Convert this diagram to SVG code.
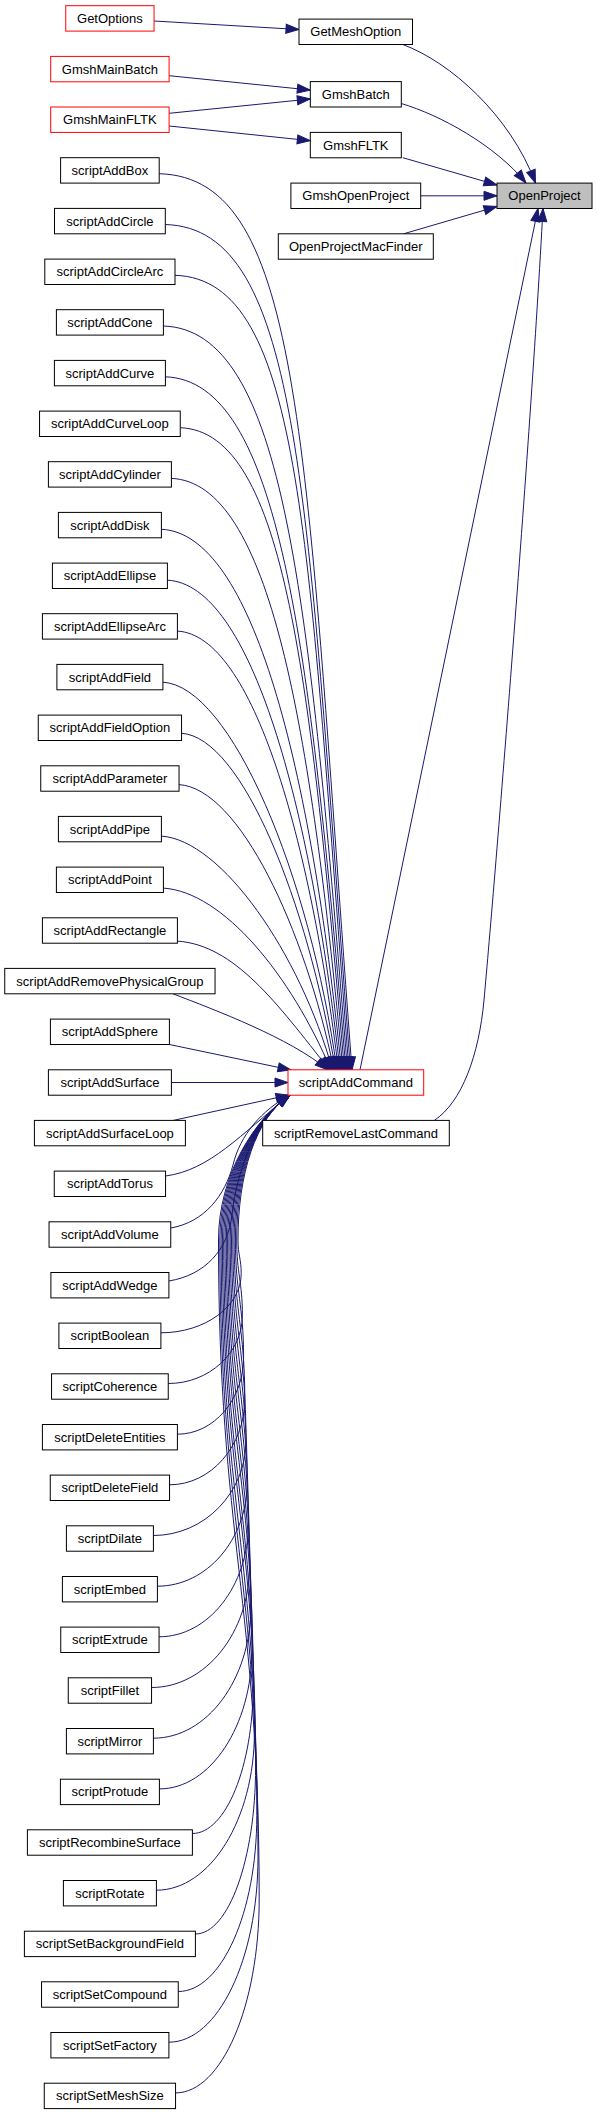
<svg xmlns="http://www.w3.org/2000/svg" width="597" height="2115" viewBox="0 0 597 2115">
<style>
.n rect{fill:#fff;stroke:#000;stroke-width:1}
.r rect{stroke:#f00}
.g rect{fill:#bfbfbf}
text{font-family:"Liberation Sans",Arial,sans-serif;font-size:13px;text-anchor:middle;fill:#000}
#edges path{fill:none;stroke:#191970;stroke-width:1;marker-end:url(#a)}
</style>
<defs>
<marker id="a" markerUnits="userSpaceOnUse" markerWidth="15" markerHeight="11" refX="13" refY="4.5" orient="auto" overflow="visible">
<path d="M0,0 L13,4.5 L0,9 z" fill="#191970" stroke="#191970" stroke-width="1"/>
</marker>
</defs>
<rect width="597" height="2115" fill="#fff"/>
<g id="edges">
<path d="M154,21 L299,29.5"/>
<path d="M169.1,75.7 L310.3,90"/>
<path d="M169.1,113.3 L310.3,99"/>
<path d="M169.1,126 L310.3,140.7"/>
<path d="M402.8,44.5 C450,62 510,115 535.5,183"/>
<path d="M401.3,103.5 C440,115 495,145 526,183"/>
<path d="M402.8,157.7 L497,185"/>
<path d="M420.7,195.8 L497,195.8"/>
<path d="M403.6,233.8 L497,206.5"/>
<path d="M360,1069.8 L538,208.5"/>
<path d="M434.3,1120.4 C462,1102 479,1055 484,1000 C495,880 530,450 543,208.5"/>
<path d="M159.2,173.7 C303.6,177.7 305,443.5 352,1070"/>
<path d="M165.3,224.5 C302.1,228.5 306.4,495.9 350.5,1070"/>
<path d="M175,275.3 C304.2,279.3 307.6,545.9 349,1070"/>
<path d="M163.4,326 C285,330 308.6,593.8 347.5,1070"/>
<path d="M165.4,376.8 C279.4,380.8 309.4,639.9 346,1070"/>
<path d="M180.3,427.7 C286.6,431.7 310.1,684 344.5,1070"/>
<path d="M171.4,478.4 C270.1,482.4 310.6,726 343,1070"/>
<path d="M161.4,529.3 C252.5,533.3 310.8,766.2 341.5,1070"/>
<path d="M167.4,580.2 C250.9,584.2 310.8,804.4 340,1070"/>
<path d="M177.4,631.1 C253.2,635.1 310.5,840.6 338.5,1070"/>
<path d="M162.9,682.2 C231.1,686.2 309.7,874.9 337,1070"/>
<path d="M181.6,733.3 C242.1,737.3 307.5,901.6 335.5,1070"/>
<path d="M179.1,784.6 C239.1,788.6 304.5,927.3 334,1070"/>
<path d="M161.4,836.1 C221.4,840.1 299.9,953 332.5,1070"/>
<path d="M163.4,888.1 C223.4,892.1 291,975.4 331,1070"/>
<path d="M177.4,941.1 C234.5,945.1 276.9,1003 329.5,1070"/>
<path d="M173,993.8 C215,1010 290,1038 328,1070"/>
<path d="M169.4,1044.5 L291,1070"/>
<path d="M171.4,1082.5 L288,1082.5"/>
<path d="M173.3,1120.4 L289,1095"/>
<path d="M165.6,1176 C210,1170 240,1135 290,1095"/>
<path d="M170.8,1228 C205,1222 225,1195 233,1165 C240,1135 262,1110 290,1095"/>
<path d="M168.9,1281 C205,1275 228,1250 232,1215 C236,1175 255,1118 290,1095"/>
<path d="M160.9,1332.8 C205.1,1332.8 241.2,1306.2 241.2,1273.8 C241.2,1258.6 238,1255.2 238,1240 C238,1175 255,1118 290,1095"/>
<path d="M168.3,1383.5 C209,1383.5 242.4,1352.9 242.4,1315.5 C242.4,1281.5 236.7,1274 236.7,1240 C236.7,1175 255,1118 290,1095"/>
<path d="M177.4,1434.2 C213.8,1434.2 243.6,1399.6 243.6,1357.2 C243.6,1304.5 235.4,1292.7 235.4,1240 C235.4,1175 255,1118 290,1095"/>
<path d="M169.6,1484.8 C210.9,1484.8 244.8,1446.1 244.8,1398.8 C244.8,1327.3 234.1,1311.5 234.1,1240 C234.1,1175 255,1118 290,1095"/>
<path d="M153.4,1535.5 C204.3,1535.5 246,1492.8 246,1440.5 C246,1350.3 232.8,1330.2 232.8,1240 C232.8,1175 255,1118 290,1095"/>
<path d="M157.4,1586.2 C206.8,1586.2 247.2,1539.4 247.2,1482.2 C247.2,1373.2 231.5,1349 231.5,1240 C231.5,1175 255,1118 290,1095"/>
<path d="M159.1,1636.8 C208.2,1636.8 248.4,1586 248.4,1523.8 C248.4,1396.1 230.2,1367.7 230.2,1240 C230.2,1175 255,1118 290,1095"/>
<path d="M151.6,1687.5 C205.5,1687.5 249.6,1632.6 249.6,1565.5 C249.6,1419 228.9,1386.5 228.9,1240 C228.9,1175 255,1118 290,1095"/>
<path d="M153.4,1738.2 C207,1738.2 250.8,1679.3 250.8,1607.2 C250.8,1442 227.6,1405.2 227.6,1240 C227.6,1175 255,1118 290,1095"/>
<path d="M159.4,1788.9 C210.3,1788.9 252,1725.9 252,1648.9 C252,1464.9 226.3,1424 226.3,1240 C226.3,1175 255,1118 290,1095"/>
<path d="M192.4,1833.5 C225.8,1833.5 253.2,1766.4 253.2,1684.5 C253.2,1484.5 225,1440 225,1240 C225,1175 255,1118 290,1095"/>
<path d="M156.4,1890.2 C210.3,1890.2 254.4,1819.1 254.4,1732.2 C254.4,1510.7 223.7,1461.5 223.7,1240 C223.7,1175 255,1118 290,1095"/>
<path d="M195.4,1934 C228.5,1934 255.6,1858.9 255.6,1767 C255.6,1529.8 222.4,1477.2 222.4,1240 C222.4,1175 255,1118 290,1095"/>
<path d="M178.3,1991.5 C221.5,1991.5 256.8,1912.3 256.8,1815.5 C256.8,1556.5 221.1,1499 221.1,1240 C221.1,1175 255,1118 290,1095"/>
<path d="M168.9,2042.2 C217.9,2042.2 258,1959 258,1857.2 C258,1579.5 219.8,1517.7 219.8,1240 C219.8,1175 255,1118 290,1095"/>
<path d="M175.6,2092.9 C221.6,2092.9 259.2,2005.6 259.2,1898.9 C259.2,1602.4 218.5,1536.5 218.5,1240 C218.5,1175 255,1118 290,1095"/>
</g>
<g id="OpenProject" class="n g"><rect x="497" y="183.1" width="95" height="25.4"/><text x="544.5" y="200.3">OpenProject</text></g>
<g id="GetMeshOption" class="n"><rect x="299" y="19.1" width="113.5" height="25.4"/><text x="355.8" y="36.3">GetMeshOption</text></g>
<g id="GmshBatch" class="n"><rect x="310.3" y="81.6" width="91" height="25.4"/><text x="355.8" y="98.8">GmshBatch</text></g>
<g id="GmshFLTK" class="n"><rect x="310.3" y="132.4" width="91" height="25.4"/><text x="355.8" y="149.6">GmshFLTK</text></g>
<g id="GmshOpenProject" class="n"><rect x="290.9" y="183.1" width="129.8" height="25.4"/><text x="355.8" y="200.3">GmshOpenProject</text></g>
<g id="OpenProjectMacFinder" class="n"><rect x="278.3" y="233.8" width="155" height="25.4"/><text x="355.8" y="251">OpenProjectMacFinder</text></g>
<g id="scriptAddCommand" class="n r"><rect x="288" y="1069.8" width="135.7" height="25.4"/><text x="355.8" y="1087">scriptAddCommand</text></g>
<g id="scriptRemoveLastCommand" class="n"><rect x="262.7" y="1120.4" width="186.6" height="25.4"/><text x="356" y="1137.6">scriptRemoveLastCommand</text></g>
<g id="GetOptions" class="n r"><rect x="65.75" y="5.7" width="88.3" height="25.4"/><text x="109.9" y="22.9">GetOptions</text></g>
<g id="GmshMainBatch" class="n r"><rect x="50.7" y="56.4" width="118.4" height="25.4"/><text x="109.9" y="73.6">GmshMainBatch</text></g>
<g id="GmshMainFLTK" class="n r"><rect x="50.7" y="107" width="118.4" height="25.4"/><text x="109.9" y="124.2">GmshMainFLTK</text></g>
<g id="scriptAddBox" class="n"><rect x="60.6" y="157.7" width="98.6" height="25.4"/><text x="109.9" y="174.9">scriptAddBox</text></g>
<g id="scriptAddCircle" class="n"><rect x="54.5" y="208.4" width="110.8" height="25.4"/><text x="109.9" y="225.6">scriptAddCircle</text></g>
<g id="scriptAddCircleArc" class="n"><rect x="44.8" y="259.1" width="130.2" height="25.4"/><text x="109.9" y="276.3">scriptAddCircleArc</text></g>
<g id="scriptAddCone" class="n"><rect x="56.4" y="309.7" width="107" height="25.4"/><text x="109.9" y="326.9">scriptAddCone</text></g>
<g id="scriptAddCurve" class="n"><rect x="54.4" y="360.4" width="111" height="25.4"/><text x="109.9" y="377.6">scriptAddCurve</text></g>
<g id="scriptAddCurveLoop" class="n"><rect x="39.55" y="411.1" width="140.7" height="25.4"/><text x="109.9" y="428.3">scriptAddCurveLoop</text></g>
<g id="scriptAddCylinder" class="n"><rect x="48.4" y="461.7" width="123" height="25.4"/><text x="109.9" y="478.9">scriptAddCylinder</text></g>
<g id="scriptAddDisk" class="n"><rect x="58.4" y="512.4" width="103" height="25.4"/><text x="109.9" y="529.6">scriptAddDisk</text></g>
<g id="scriptAddEllipse" class="n"><rect x="52.4" y="563.1" width="115" height="25.4"/><text x="109.9" y="580.3">scriptAddEllipse</text></g>
<g id="scriptAddEllipseArc" class="n"><rect x="42.4" y="613.7" width="135" height="25.4"/><text x="109.9" y="630.9">scriptAddEllipseArc</text></g>
<g id="scriptAddField" class="n"><rect x="56.9" y="664.4" width="106" height="25.4"/><text x="109.9" y="681.6">scriptAddField</text></g>
<g id="scriptAddFieldOption" class="n"><rect x="38.25" y="715.1" width="143.3" height="25.4"/><text x="109.9" y="732.3">scriptAddFieldOption</text></g>
<g id="scriptAddParameter" class="n"><rect x="40.75" y="765.8" width="138.3" height="25.4"/><text x="109.9" y="783">scriptAddParameter</text></g>
<g id="scriptAddPipe" class="n"><rect x="58.4" y="816.4" width="103" height="25.4"/><text x="109.9" y="833.6">scriptAddPipe</text></g>
<g id="scriptAddPoint" class="n"><rect x="56.4" y="867.1" width="107" height="25.4"/><text x="109.9" y="884.3">scriptAddPoint</text></g>
<g id="scriptAddRectangle" class="n"><rect x="42.4" y="917.8" width="135" height="25.4"/><text x="109.9" y="935">scriptAddRectangle</text></g>
<g id="scriptAddRemovePhysicalGroup" class="n"><rect x="4.75" y="968.4" width="210.3" height="25.4"/><text x="109.9" y="985.6">scriptAddRemovePhysicalGroup</text></g>
<g id="scriptAddSphere" class="n"><rect x="50.4" y="1019.1" width="119" height="25.4"/><text x="109.9" y="1036.3">scriptAddSphere</text></g>
<g id="scriptAddSurface" class="n"><rect x="48.4" y="1069.8" width="123" height="25.4"/><text x="109.9" y="1087">scriptAddSurface</text></g>
<g id="scriptAddSurfaceLoop" class="n"><rect x="34.4" y="1120.4" width="151" height="25.4"/><text x="109.9" y="1137.6">scriptAddSurfaceLoop</text></g>
<g id="scriptAddTorus" class="n"><rect x="54.25" y="1171.1" width="111.3" height="25.4"/><text x="109.9" y="1188.3">scriptAddTorus</text></g>
<g id="scriptAddVolume" class="n"><rect x="49.05" y="1221.8" width="121.7" height="25.4"/><text x="109.9" y="1239">scriptAddVolume</text></g>
<g id="scriptAddWedge" class="n"><rect x="50.9" y="1272.5" width="118" height="25.4"/><text x="109.9" y="1289.7">scriptAddWedge</text></g>
<g id="scriptBoolean" class="n"><rect x="58.9" y="1323.1" width="102" height="25.4"/><text x="109.9" y="1340.3">scriptBoolean</text></g>
<g id="scriptCoherence" class="n"><rect x="51.55" y="1373.8" width="116.7" height="25.4"/><text x="109.9" y="1391">scriptCoherence</text></g>
<g id="scriptDeleteEntities" class="n"><rect x="42.4" y="1424.5" width="135" height="25.4"/><text x="109.9" y="1441.7">scriptDeleteEntities</text></g>
<g id="scriptDeleteField" class="n"><rect x="50.25" y="1475.1" width="119.3" height="25.4"/><text x="109.9" y="1492.3">scriptDeleteField</text></g>
<g id="scriptDilate" class="n"><rect x="66.4" y="1525.8" width="87" height="25.4"/><text x="109.9" y="1543">scriptDilate</text></g>
<g id="scriptEmbed" class="n"><rect x="62.4" y="1576.5" width="95" height="25.4"/><text x="109.9" y="1593.7">scriptEmbed</text></g>
<g id="scriptExtrude" class="n"><rect x="60.75" y="1627.1" width="98.3" height="25.4"/><text x="109.9" y="1644.3">scriptExtrude</text></g>
<g id="scriptFillet" class="n"><rect x="68.25" y="1677.8" width="83.3" height="25.4"/><text x="109.9" y="1695">scriptFillet</text></g>
<g id="scriptMirror" class="n"><rect x="66.4" y="1728.5" width="87" height="25.4"/><text x="109.9" y="1745.7">scriptMirror</text></g>
<g id="scriptProtude" class="n"><rect x="60.4" y="1779.2" width="99" height="25.4"/><text x="109.9" y="1796.4">scriptProtude</text></g>
<g id="scriptRecombineSurface" class="n"><rect x="27.4" y="1829.8" width="165" height="25.4"/><text x="109.9" y="1847">scriptRecombineSurface</text></g>
<g id="scriptRotate" class="n"><rect x="63.4" y="1880.5" width="93" height="25.4"/><text x="109.9" y="1897.7">scriptRotate</text></g>
<g id="scriptSetBackgroundField" class="n"><rect x="24.4" y="1931.2" width="171" height="25.4"/><text x="109.9" y="1948.4">scriptSetBackgroundField</text></g>
<g id="scriptSetCompound" class="n"><rect x="41.55" y="1981.8" width="136.7" height="25.4"/><text x="109.9" y="1999">scriptSetCompound</text></g>
<g id="scriptSetFactory" class="n"><rect x="50.9" y="2032.5" width="118" height="25.4"/><text x="109.9" y="2049.7">scriptSetFactory</text></g>
<g id="scriptSetMeshSize" class="n"><rect x="44.25" y="2083.2" width="131.3" height="25.4"/><text x="109.9" y="2100.4">scriptSetMeshSize</text></g>
</svg>
